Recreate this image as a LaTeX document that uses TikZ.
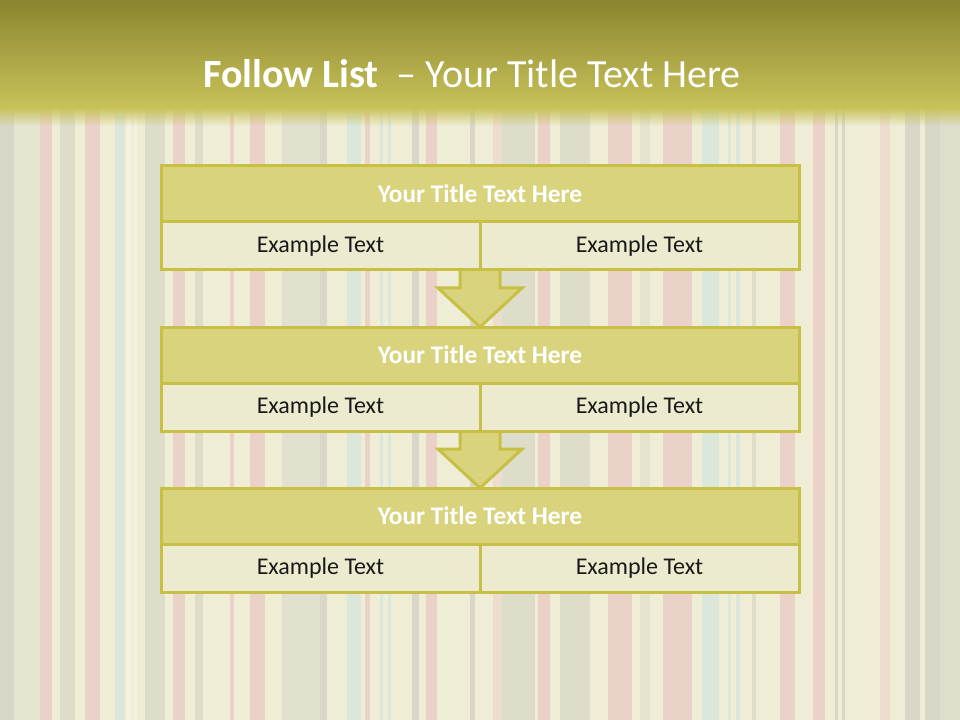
\documentclass[tikz,border=0pt]{standalone}
\usepackage{fontspec}
\setmainfont{Carlito}
\usetikzlibrary{fadings}
\definecolor{bgcream}{HTML}{EFEDD6}
\definecolor{spink}{HTML}{EACBC5}
\definecolor{sgreen}{HTML}{D8D9C6}
\definecolor{smint}{HTML}{D6E6DB}
\definecolor{sgrey}{HTML}{D3D2C5}
\definecolor{swhite}{HTML}{F5F3E4}
\definecolor{bandtop}{HTML}{8A852F}
\definecolor{bandbot}{HTML}{C8C25A}
\definecolor{titlefill}{HTML}{D8D37C}
\definecolor{cellfill}{HTML}{EDEBCF}
\definecolor{bordercol}{HTML}{C7C044}
\tikzfading[name=fadedown, top color=transparent!0, bottom color=transparent!100]
\tikzset{
  titlebox/.style={rectangle, draw=bordercol, fill=titlefill, line width=2.25pt,
    minimum width=478.5pt, minimum height=42pt, inner sep=0pt, outer sep=0pt,
    text=white, font=\fontsize{19}{21}\selectfont\bfseries},
  cellbox/.style={rectangle, draw=bordercol, fill=cellfill, line width=2.25pt,
    minimum width=239.25pt, minimum height=36pt, inner sep=0pt, outer sep=0pt,
    text=black!90, font=\fontsize{18}{20}\selectfont},
  downarrow/.style={draw=bordercol, fill=titlefill, line width=2.25pt, line join=miter},
}
\begin{document}
\begin{tikzpicture}[x=0.75pt, y=-0.75pt]
\useasboundingbox (0,0) rectangle (960,720);
% background stripes
\fill[bgcream] (0,0) rectangle (960,720);
\foreach \a/\b/\c in {0/14/sgrey, 14/40/sgreen!50!bgcream, 40/52/spink, 60/75/sgreen, 85/100/spink,
  115/125/smint, 127/131/swhite, 134/137/swhite, 145/165/sgreen, 173/185/spink, 195/203/sgreen,
  230/234/spink, 250/265/spink, 282/320/sgrey!60!bgcream, 320/327/sgrey, 347/361/smint,
  365/370/spink, 380/383/smint, 388/391/smint, 412/419/sgrey, 426/437/spink, 470/475/sgrey,
  493/502/spink!60!bgcream, 502/535/sgreen, 538/550/spink, 560/590/sgreen, 608/632/spink,
  640/650/sgreen!60!bgcream, 663/692/spink, 702/719/smint, 728/731/smint, 736/740/smint,
  752/756/sgreen, 780/795/spink, 813/825/spink, 835/838/sgrey, 842/845/sgrey,
  880/890/spink!60!bgcream, 905/920/sgrey, 925/940/sgrey, 940/960/sgrey!70!bgcream}
  \fill[\c!80!bgcream] (\a,0) rectangle (\b,720);
% title band
\fill[top color=bandtop, bottom color=bandbot] (0,0) rectangle (960,108);
\fill[bandbot, path fading=fadedown] (0,107.5) rectangle (960,126);
\node[anchor=base west, text=white, font=\fontsize{30}{32}\selectfont, inner sep=0pt]
  (maintitle) at (203,88) {\textbf{Follow List}\ \ – Your Title Text Here};
% arrows
\draw[downarrow] (460,268) -- (500,268) -- (500,288) -- (522,288) -- (480,327) -- (438,288) -- (460,288) -- cycle;
\draw[downarrow] (460,429) -- (500,429) -- (500,449) -- (522,449) -- (480,488) -- (438,449) -- (460,449) -- cycle;
% group 1
\node[titlebox] (t1) at (480,194) {Your Title Text Here};
\node[cellbox] (a1) at (320.5,246) {Example Text};
\node[cellbox] (b1) at (639.5,246) {Example Text};
% group 2
\node[titlebox] (t2) at (480,355) {Your Title Text Here};
\node[cellbox] (a2) at (320.5,407) {Example Text};
\node[cellbox] (b2) at (639.5,407) {Example Text};
% group 3
\node[titlebox] (t3) at (480,516) {Your Title Text Here};
\node[cellbox] (a3) at (320.5,568) {Example Text};
\node[cellbox] (b3) at (639.5,568) {Example Text};
\end{tikzpicture}
\end{document}
